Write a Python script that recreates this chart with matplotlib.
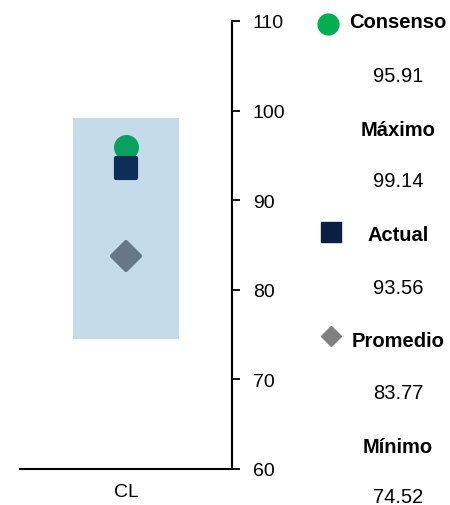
import matplotlib
matplotlib.use("Agg")
import matplotlib.pyplot as plt
from matplotlib.markers import MarkerStyle

plt.rcParams['font.family'] = ['Liberation Sans', 'DejaVu Sans']

categories = ["CL"]
consenso = [95.91]
maximo = [99.14]
actual = [93.56]
promedio = [83.77]
minimo = [74.52]
yticks = [60, 70, 80, 90, 100, 110]

legend_labels = ["Consenso", "Máximo", "Actual", "Promedio", "Mínimo"]
legend_values = [consenso[0], maximo[0], actual[0], promedio[0], minimo[0]]

fig = plt.figure(figsize=(4.5, 5.06), dpi=100)
ax = fig.add_axes([20/450, 1-470/506, 212/450, 448/506])

x = list(range(len(categories)))
ax.bar(x, [mx - mn for mx, mn in zip(maximo, minimo)], bottom=minimo, width=1.0,
       color='#c5dbea', zorder=1)

def ms(m):
    return MarkerStyle(m, joinstyle='round')

ax.plot(x, consenso, linestyle='none', marker=ms('o'), markersize=16,
        markerfacecolor='#0ba060', markeredgecolor='#0ba060', markeredgewidth=2, zorder=3)
ax.plot(x, actual, linestyle='none', marker=ms('s'), markersize=14.5,
        markerfacecolor='#0c2e58', markeredgecolor='#0c2e58', markeredgewidth=3, zorder=4)
ax.plot(x, promedio, linestyle='none', marker=ms('D'), markersize=14,
        markerfacecolor='#667888', markeredgecolor='#667888', markeredgewidth=3, zorder=3)

ax.set_xlim(-1, 1)
ax.set_ylim(60, 110)
ax.set_yticks(yticks)
ax.set_xticks(x)
ax.set_xticklabels(categories)

ax.spines['top'].set_visible(False)
ax.spines['left'].set_visible(False)
ax.spines['right'].set_linewidth(1.5)
ax.spines['bottom'].set_linewidth(1.5)
ax.yaxis.tick_right()
ax.tick_params(axis='y', direction='out', length=6, width=1.3, pad=9, labelsize=14)
ax.tick_params(axis='x', length=0, pad=10, labelsize=14)
ax.patch.set_alpha(0)

# legend-like annotation column
xc = 398/450
ys = [22, 76, 130, 182, 236, 288, 342, 394, 448, 498]
for i, (lab, val) in enumerate(zip(legend_labels, legend_values)):
    fig.text(xc, 1 - ys[2*i]/506, lab, ha='center', va='center', fontsize=14.5, fontweight='bold')
    fig.text(xc, 1 - ys[2*i+1]/506, f"{val:.2f}", ha='center', va='center', fontsize=14.5)

fig.lines.append(plt.Line2D([328/450], [1-25/506], transform=fig.transFigure, marker='o',
                            markersize=15, color='#00b050', linestyle='none'))
fig.lines.append(plt.Line2D([331/450], [1-233/506], transform=fig.transFigure, marker='s',
                            markersize=14, color='#0a1f44', linestyle='none'))
fig.lines.append(plt.Line2D([331/450], [1-337/506], transform=fig.transFigure, marker='D',
                            markersize=10, color='#808080', linestyle='none'))

fig.savefig("out.png", dpi=100)
